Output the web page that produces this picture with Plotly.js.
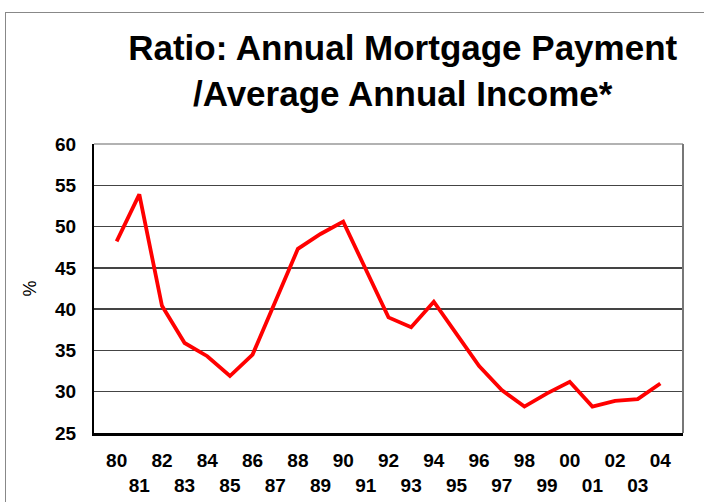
<!DOCTYPE html>
<html><head><meta charset="utf-8">
<script src="https://cdn.plot.ly/plotly-3.0.1.min.js"></script>
<style>
body{margin:0;padding:0;background:#fff;}
#frame{position:absolute;left:5px;top:12px;width:720px;height:520px;border-left:1px solid #888;border-top:1px solid #888;}
#chart{position:absolute;left:0;top:0;width:704px;height:502px;}
</style></head>
<body>
<div id="frame"></div>
<div id="chart"></div>
<script>
const years = ['80','81','82','83','84','85','86','87','88','89','90','91','92','93','94','95','96','97','98','99','00','01','02','03','04'];
const ratio = [48.2,53.9,40.4,35.9,34.3,31.9,34.5,40.9,47.3,49.1,50.6,44.8,39.0,37.8,40.9,37.0,33.1,30.2,28.2,29.8,31.2,28.2,28.9,29.1,31.0];
const yTicks = [25,30,35,40,45,50,55,60];

const idx = years.map((_, i) => i);
const tickText = years.map((y, i) => i % 2 === 0 ? y : '<br>' + y);
const FONT = 'Liberation Sans, Arial, sans-serif';

const trace = {
  x: idx, y: ratio, type: 'scatter', mode: 'lines',
  line: {color: '#ff0000', width: 3.8},
  hoverinfo: 'skip'
};
const layout = {
  width: 704, height: 502,
  margin: {l: 94, r: 21, t: 144, b: 69},
  paper_bgcolor: 'rgba(0,0,0,0)', plot_bgcolor: '#fff',
  showlegend: false,
  font: {family: FONT, color: '#000'},
  title: {
    text: '<b>Ratio: Annual Mortgage Payment<br>/Average Annual Income*</b>',
    font: {size: 35, family: FONT, color: '#000'},
    x: 0.572, xanchor: 'center', y: 0.88, yanchor: 'top'
  },
  xaxis: {
    range: [-1, 25], tickvals: idx, ticktext: tickText, tickangle: 0,
    tickfont: {size: 19, family: FONT, weight: 'bold'},
    showgrid: false, ticks: '', zeroline: false, ticklabelstandoff: 8,
    showline: true, linecolor: '#000', linewidth: 3, mirror: false,
    fixedrange: true
  },
  yaxis: {
    range: [25, 60], tickvals: yTicks,
    tickfont: {size: 19, family: FONT, weight: 'bold'},
    showgrid: true, gridcolor: '#444', gridwidth: 1.3,
    ticks: '', zeroline: false, ticklabelstandoff: 12,
    showline: true, linecolor: '#000', linewidth: 2,
    title: {text: '%', font: {size: 18}, standoff: 14},
    fixedrange: true
  },
  shapes: [
    {type: 'line', xref: 'paper', yref: 'paper', x0: 0, x1: 1, y0: 1, y1: 1, line: {color: '#999', width: 1.5}},
    {type: 'line', xref: 'paper', yref: 'paper', x0: 1, x1: 1, y0: 0, y1: 1, line: {color: '#777', width: 2}}
  ]
};
Plotly.newPlot('chart', [trace], layout, {displayModeBar: false, staticPlot: true});
</script>
</body></html>
